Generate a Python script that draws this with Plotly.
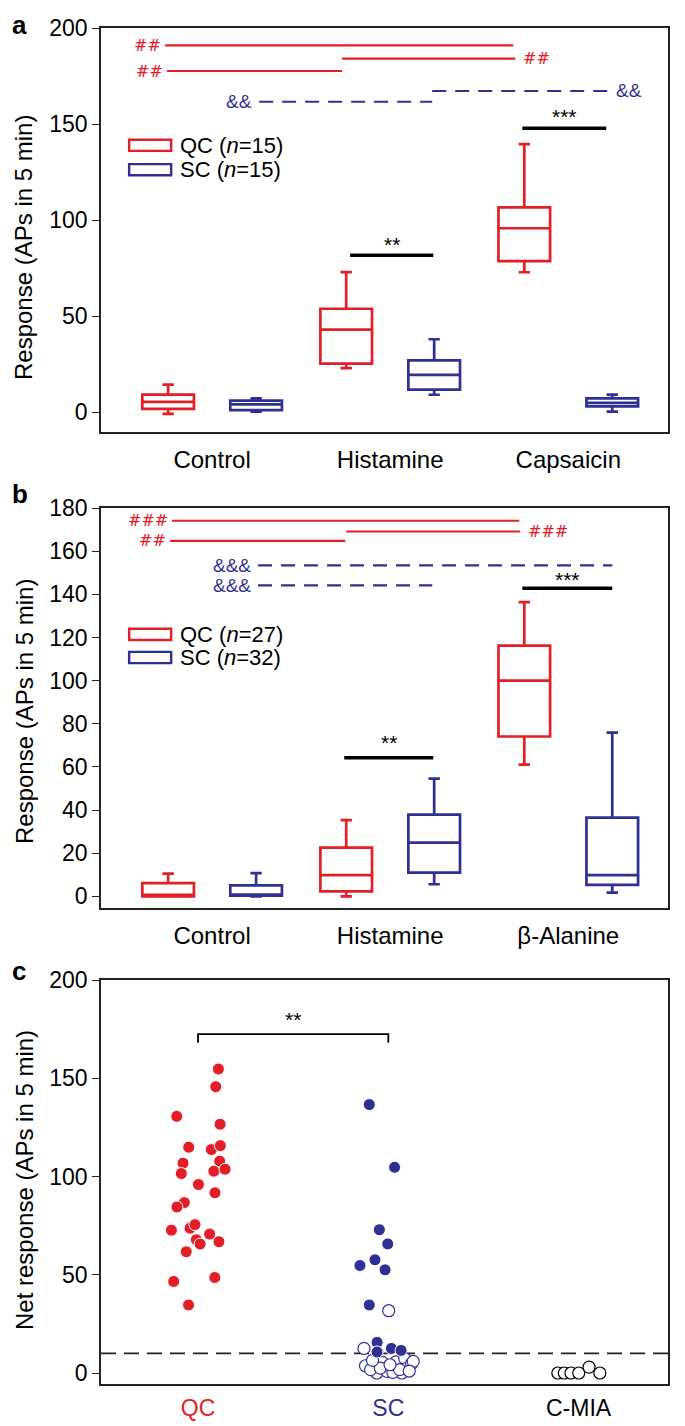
import plotly.graph_objects as go

# ---------------- data ----------------
cats_a = ["Control", "Histamine", "Capsaicin"]
cats_b = ["Control", "Histamine", "β-Alanine"]

# panel a (QC n=15, SC n=15): lower whisker, q1, median, q3, upper whisker
a_qc_low = [-1.0, 22.9, 72.8]
a_qc_q1 = [1.6, 25.2, 78.6]
a_qc_med = [5.3, 42.9, 95.7]
a_qc_q3 = [9.1, 53.8, 106.6]
a_qc_high = [14.3, 72.9, 139.5]
a_sc_low = [0.2, 9.0, 0.2]
a_sc_q1 = [1.0, 11.7, 2.9]
a_sc_med = [4.0, 19.3, 4.8]
a_sc_q3 = [5.9, 26.9, 7.1]
a_sc_high = [7.1, 37.9, 9.1]

# panel b (QC n=27, SC n=32)
b_qc_low = [0.0, 0.0, 61.1]
b_qc_q1 = [0.0, 2.3, 74.1]
b_qc_med = [0.7, 9.8, 100.0]
b_qc_q3 = [6.1, 22.6, 116.2]
b_qc_high = [10.5, 35.3, 136.4]
b_sc_low = [0.0, 5.6, 1.7]
b_sc_q1 = [0.3, 11.0, 5.3]
b_sc_med = [0.8, 24.9, 9.8]
b_sc_q3 = [5.1, 37.9, 36.5]
b_sc_high = [10.8, 54.6, 75.9]

# significance bars: (x0, x1, level, label, label side)
a_red_bars = [(-0.264, 1.691, 190.9, "##", "left"),
              (0.730, 1.702, 184.0, "##", "right"),
              (-0.253, 0.730, 177.6, "##", "left")]
a_blue_bars = [(0.264, 1.236, 161.6, "&&", "left"),
               (1.236, 2.225, 167.2, "&&", "right")]
a_black_bars = [(0.775, 1.242, 81.6, "**"), (1.742, 2.213, 147.8, "***")]

b_red_bars = [(-0.225, 1.725, 174.1, "###", "left"),
              (0.753, 1.730, 169.1, "###", "right"),
              (-0.236, 0.747, 164.8, "##", "left")]
b_blue_bars = [(0.258, 2.247, 153.4, "&&&", "left"),
               (0.258, 1.236, 144.1, "&&&", "left")]
b_black_bars = [(0.742, 1.242, 64.2, "**"), (1.742, 2.247, 142.8, "***")]

# panel c: net responses
c_cats = ["QC", "SC", "C-MIA"]
qc_vals = [154.7, 145.7, 130.6, 126.6, 114.9, 113.7, 115.7, 106.8, 107.8, 101.5,
           102.7, 103.7, 95.9, 91.7, 86.7, 84.5, 72.7, 73.7, 75.5, 70.7, 67.8,
           65.6, 66.8, 61.7, 46.6, 48.6, 34.6]
qc_jit = [0.107, 0.093, -0.112, 0.116, -0.049, 0.070, 0.117, -0.079, 0.114, -0.088,
          0.083, 0.142, 0.002, 0.089, -0.072, -0.111, -0.140, -0.042, -0.016, 0.061,
          -0.009, 0.011, 0.110, -0.062, -0.128, 0.088, -0.050]
sc_fill_vals = [136.6, 104.7, 72.9, 65.7, 57.6, 54.7, 52.5, 34.6, 15.6, 10.7, 12.5, 11.5]
sc_fill_jit = [-0.100, 0.033, -0.047, -0.003, -0.070, -0.149, -0.017, -0.100, -0.059,
               -0.059, 0.016, 0.067]
sc_open_vals = [31.7, 12.5, 3.7, 5.1, 0.0, 5.4, 0.8, 5.7, 7.4, 2.3, 4.7, 0.0, 1.7,
                2.5, 0.3, 1.7, 6.4, 4.2, 5.9, 1.0]
sc_open_jit = [0.002, -0.128, -0.120, -0.069, -0.061, -0.031, -0.007, 0.040, 0.086,
               0.094, 0.122, 0.071, -0.093, -0.042, 0.024, 0.059, -0.083, 0.009,
               0.131, 0.110]
cmia_vals = [0.0, 0.0, 0.0, 0.0, 3.0, 0.0]
cmia_jit = [-0.109, -0.075, -0.040, 0.001, 0.055, 0.112]
threshold = 10
c_bracket = (0, 1, 172.5, "**")

# ---------------- style ----------------
RED = "#E41E26"
BLUE = "#2E3192"
FONT = "Liberation Sans"
PAGE_OFF = 8            # default body margin of the html page
FW, FH = 677, 1418
XL, XR = 101, 668       # frame, page px
OFF = 0.247
BOXW = 0.29


def px_x(p):
    return (p - PAGE_OFF) / FW


def px_y(p):
    return 1 - (p - PAGE_OFF) / FH


def dom(top, bot):
    return [px_y(bot), px_y(top)]


fig = go.Figure()


def add_boxes(xa, ya, low, q1, med, q3, high, offset, color, name):
    fig.add_trace(go.Box(
        x=[i + offset for i in range(len(med))],
        lowerfence=low, q1=q1, median=med, q3=q3, upperfence=high,
        width=BOXW, whiskerwidth=0.22, fillcolor="rgba(255,255,255,0)",
        line=dict(color=color, width=2.7), boxpoints=False,
        name=name, showlegend=False, xaxis=xa, yaxis=ya, hoverinfo="skip"))


add_boxes("x", "y", a_qc_low, a_qc_q1, a_qc_med, a_qc_q3, a_qc_high, -OFF, RED, "QC")
add_boxes("x", "y", a_sc_low, a_sc_q1, a_sc_med, a_sc_q3, a_sc_high, OFF, BLUE, "SC")
add_boxes("x2", "y2", b_qc_low, b_qc_q1, b_qc_med, b_qc_q3, b_qc_high, -OFF, RED, "QC")
add_boxes("x2", "y2", b_sc_low, b_sc_q1, b_sc_med, b_sc_q3, b_sc_high, OFF, BLUE, "SC")

shapes = []
annos = []


def sig(xr, yr, reds, blues, blacks, star_shift):
    for x0, x1, lv, lab, side in reds:
        shapes.append(dict(type="line", xref=xr, yref=yr, x0=x0, x1=x1, y0=lv, y1=lv,
                           line=dict(color=RED, width=2.2)))
        annos.append(dict(xref=xr, yref=yr, x=(x0 - 0.012) if side == "left" else (x1 + 0.03),
                          y=lv, text=lab, showarrow=False,
                          xanchor="right" if side == "left" else "left",
                          font=dict(family="DejaVu Serif", size=16, color=RED)))
    for x0, x1, lv, lab, side in blues:
        shapes.append(dict(type="line", xref=xr, yref=yr, x0=x0, x1=x1, y0=lv, y1=lv,
                           line=dict(color=BLUE, width=2.2, dash="14px,9px")))
        annos.append(dict(xref=xr, yref=yr, x=(x0 - 0.03) if side == "left" else (x1 + 0.03),
                          y=lv, text=lab, showarrow=False,
                          xanchor="right" if side == "left" else "left",
                          font=dict(family=FONT, size=19, color=BLUE)))
    for (x0, x1, lv, lab), sh in zip(blacks, star_shift):
        shapes.append(dict(type="line", xref=xr, yref=yr, x0=x0, x1=x1, y0=lv, y1=lv,
                           line=dict(color="black", width=3.5)))
        annos.append(dict(xref=xr, yref=yr, x=(x0 + x1) / 2, y=lv, yshift=sh, text=lab,
                          showarrow=False, xanchor="center", yanchor="middle",
                          font=dict(family=FONT, size=21, color="black")))


sig("x", "y", a_red_bars, a_blue_bars, a_black_bars, [11, 12])
sig("x2", "y2", b_red_bars, b_blue_bars, b_black_bars, [15, 9])


def legend(xr, yr, y1, y2, n1, n2, half):
    for yy, col, n, lab in [(y1, RED, n1, "QC"), (y2, BLUE, n2, "SC")]:
        shapes.append(dict(type="rect", xref=xr, yref=yr, x0=-0.466, x1=-0.23,
                           y0=yy - half, y1=yy + half,
                           line=dict(color=col, width=2.4)))
        annos.append(dict(xref=xr, yref=yr, x=-0.19, y=yy, xanchor="left",
                          text=f"{lab} (<i>n</i>={n})", showarrow=False,
                          font=dict(family=FONT, size=22, color="black")))


legend("x", "y", 138.9, 126.2, 15, 15, 2.9)
legend("x2", "y2", 121.4, 110.7, 27, 32, 2.6)

# panel c scatter
fig.add_trace(go.Scatter(x=[0 + j for j in qc_jit], y=qc_vals, mode="markers",
                         marker=dict(size=12, color=RED, line=dict(color="white", width=1)),
                         xaxis="x3", yaxis="y3", showlegend=False))
fig.add_trace(go.Scatter(x=[1 + j for j in sc_open_jit], y=sc_open_vals, mode="markers",
                         marker=dict(size=12, color="white", line=dict(color=BLUE, width=1.2)),
                         xaxis="x3", yaxis="y3", showlegend=False))
fig.add_trace(go.Scatter(x=[1 + j for j in sc_fill_jit], y=sc_fill_vals, mode="markers",
                         marker=dict(size=12, color=BLUE, line=dict(color="white", width=1)),
                         xaxis="x3", yaxis="y3", showlegend=False))
fig.add_trace(go.Scatter(x=[2 + j for j in cmia_jit], y=cmia_vals, mode="markers",
                         marker=dict(size=12, color="white", line=dict(color="black", width=1.2)),
                         xaxis="x3", yaxis="y3", showlegend=False))

shapes.append(dict(type="line", xref="x3 domain", yref="y3", x0=0, x1=1, y0=threshold,
                   y1=threshold, line=dict(color="#222", width=1.6, dash="15px,8px"), layer="below"))
bx0, bx1, blv, blab = c_bracket
shapes.append(dict(type="path", xref="x3", yref="y3",
                   path=f"M {bx0},{blv - 4.4} L {bx0},{blv} L {bx1},{blv} L {bx1},{blv - 4.4}",
                   line=dict(color="black", width=1.8)))
annos.append(dict(xref="x3", yref="y3", x=(bx0 + bx1) / 2, y=blv, yshift=15, text=blab,
                  showarrow=False, font=dict(family=FONT, size=21, color="black")))

# panel letters and y titles
for lab, ypx in [("a", 8), ("b", 477), ("c", 954)]:
    annos.append(dict(xref="paper", yref="paper", x=px_x(10), y=px_y(ypx), text=f"<b>{lab}</b>",
                      showarrow=False, xanchor="left", yanchor="top",
                      font=dict(family=FONT, size=26, color="black")))
for txt, cy in [("Response (APs in 5 min)", 248),
                ("Response (APs in 5 min)", 712),
                ("Net response (APs in 5 min)", 1180)]:
    annos.append(dict(xref="paper", yref="paper", x=px_x(24), y=px_y(cy),
                      text=txt, textangle=-90, showarrow=False, xanchor="center",
                      yanchor="middle", font=dict(family=FONT, size=24, color="black")))

axis_common = dict(showline=True, linecolor="#222", linewidth=1.6, mirror=True,
                   showgrid=False, zeroline=False, automargin=False,
                   tickfont=dict(family=FONT, size=23, color="black"))
yax_common = dict(axis_common, ticks="outside", ticklen=7, tickwidth=1.4, tickcolor="#222")
xlab_font = dict(family=FONT, size=24, color="black")

xdom = [px_x(XL), px_x(XR)]
c_ticktext = [f'<span style="color:{RED}">QC</span>',
              f'<span style="color:{BLUE}">SC</span>',
              '<span style="color:black">C-MIA</span>']

fig.update_layout(
    template="none",
    width=FW, height=FH, margin=dict(l=0, r=0, t=0, b=0, pad=0),
    paper_bgcolor="white", plot_bgcolor="white", showlegend=False,
    xaxis=dict(axis_common, domain=xdom, anchor="y", range=[-0.624, 2.56],
               tickvals=[0, 1, 2], ticktext=cats_a, ticks="", tickfont=xlab_font,
               ticklabelstandoff=5),
    yaxis=dict(yax_common, domain=dom(28, 432), anchor="x", range=[-10.4, 200],
               tickvals=[0, 50, 100, 150, 200]),
    xaxis2=dict(axis_common, domain=xdom, anchor="y2", range=[-0.624, 2.56],
                tickvals=[0, 1, 2], ticktext=cats_b, ticks="", tickfont=xlab_font,
                ticklabelstandoff=5),
    yaxis2=dict(yax_common, domain=dom(508, 908), anchor="x2", range=[-5.4, 180],
                tickvals=[0, 20, 40, 60, 80, 100, 120, 140, 160, 180]),
    xaxis3=dict(axis_common, domain=xdom, anchor="y3", range=[-0.51, 2.47],
                tickvals=[0, 1, 2], ticktext=c_ticktext, ticks="",
                tickfont=dict(family=FONT, size=23, color="black"),
                ticklabelstandoff=3),
    yaxis3=dict(yax_common, domain=dom(980, 1384), anchor="x3", range=[-5.6, 200],
                tickvals=[0, 50, 100, 150, 200]),
    shapes=shapes, annotations=annos,
)

fig.write_html("out.html")
